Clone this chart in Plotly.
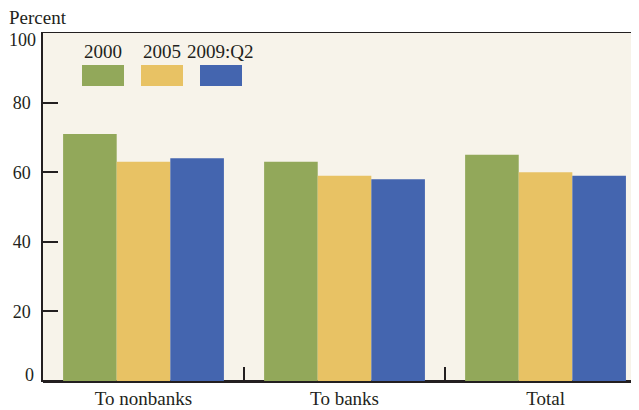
import plotly.graph_objects as go

categories = ["To nonbanks", "To banks", "Total"]
series_names = ["2000", "2005", "2009:Q2"]
values_2000 = [71, 63, 65]
values_2005 = [63, 59, 60]
values_2009 = [64, 58, 59]
colors = ["#92A85A", "#E8C264", "#4465AF"]
y_ticks = [0, 20, 40, 60, 80, 100]
y_tick_labels = ["0", "20", "40", "60", "80", "100"]

# page has an 8px body margin; compensate so the figure lands on the reference pixels
OFF = 8
W, H = 639 - OFF, 410 - OFF
L, R, T, B = 43 - OFF, 0, 33 - OFF, 29
pw, ph = W - L - R, H - T - B

FONT = "Liberation Serif"
INK = "#231F20"
YFS = 18


def px_x(x):  # reference page pixel -> paper
    return (x - OFF - L) / pw


def px_y(y):
    return (H - B - (y - OFF)) / ph


fig = go.Figure()
for name, vals, col in zip(series_names, [values_2000, values_2005, values_2009], colors):
    fig.add_trace(go.Bar(x=categories, y=vals, name=name, marker=dict(color=col, line=dict(width=0)),
                         showlegend=False))

# invisible trace for right-side ticks
fig.add_trace(go.Scatter(x=[categories[0]], y=[0], yaxis="y2", mode="markers",
                         marker=dict(opacity=0), showlegend=False, hoverinfo="skip"))

# end labels (0 and 100) are nudged inward in the reference; draw them separately
inner_text = [t if 0 < v < 100 else "" for v, t in zip(y_ticks, y_tick_labels)]

fig.update_layout(
    width=W, height=H,
    margin=dict(l=L, r=R, t=T, b=B),
    paper_bgcolor="white", plot_bgcolor="#F7F3EA",
    barmode="group", bargap=0.2, bargroupgap=0,
    font=dict(family=FONT, size=19, color=INK),
    xaxis=dict(range=[-0.5, 2.465], tickson="boundaries", ticks="inside", ticklen=14,
               tickcolor=INK, tickwidth=1.5,
               showline=True, linecolor=INK, linewidth=1, mirror=True,
               showgrid=False, tickfont=dict(size=19, family=FONT)),
    yaxis=dict(range=[0, 100], tickvals=y_ticks, ticktext=inner_text, ticks="inside", ticklen=15,
               tickcolor=INK, tickwidth=1.5,
               showline=True, linecolor=INK, linewidth=1.5,
               showgrid=False, zeroline=True, zerolinecolor=INK, zerolinewidth=2.5,
               tickfont=dict(size=YFS, family=FONT), ticklabelstandoff=7),
    yaxis2=dict(range=[0, 100], tickvals=y_ticks, overlaying="y", side="right",
                ticks="inside", ticklen=7, tickcolor=INK, tickwidth=1.5,
                showticklabels=False, showline=False, showgrid=False, zeroline=False),
)

for v, t in zip(y_ticks, y_tick_labels):
    if v == 0:
        fig.add_annotation(text=t, xref="paper", yref="y", x=px_x(35), y=v, yshift=6,
                           xanchor="right", yanchor="middle", showarrow=False, borderpad=0,
                           font=dict(size=YFS, family=FONT))
    elif v == 100:
        fig.add_annotation(text=t, xref="paper", yref="y", x=px_x(36.5), y=v, yshift=-7,
                           xanchor="right", yanchor="middle", showarrow=False, borderpad=0,
                           font=dict(size=YFS, family=FONT))

fig.add_annotation(text="Percent", xref="paper", yref="paper",
                   x=px_x(7), y=px_y(18), xanchor="left", yanchor="middle",
                   showarrow=False, font=dict(size=19, family=FONT))

legend_x = [82, 141, 200]
for name, col, lx in zip(series_names, colors, legend_x):
    x0 = px_x(lx)
    x1 = px_x(lx + 42)
    fig.add_shape(type="rect", xref="paper", yref="paper", x0=x0, x1=x1,
                  y0=px_y(86), y1=px_y(65), fillcolor=col, line=dict(width=0))
    fig.add_annotation(text=name, xref="paper", yref="paper", x=(x0 + x1) / 2,
                       y=px_y(51), xanchor="center", yanchor="middle",
                       showarrow=False, font=dict(size=19, family=FONT))

fig.write_html("out.html")
